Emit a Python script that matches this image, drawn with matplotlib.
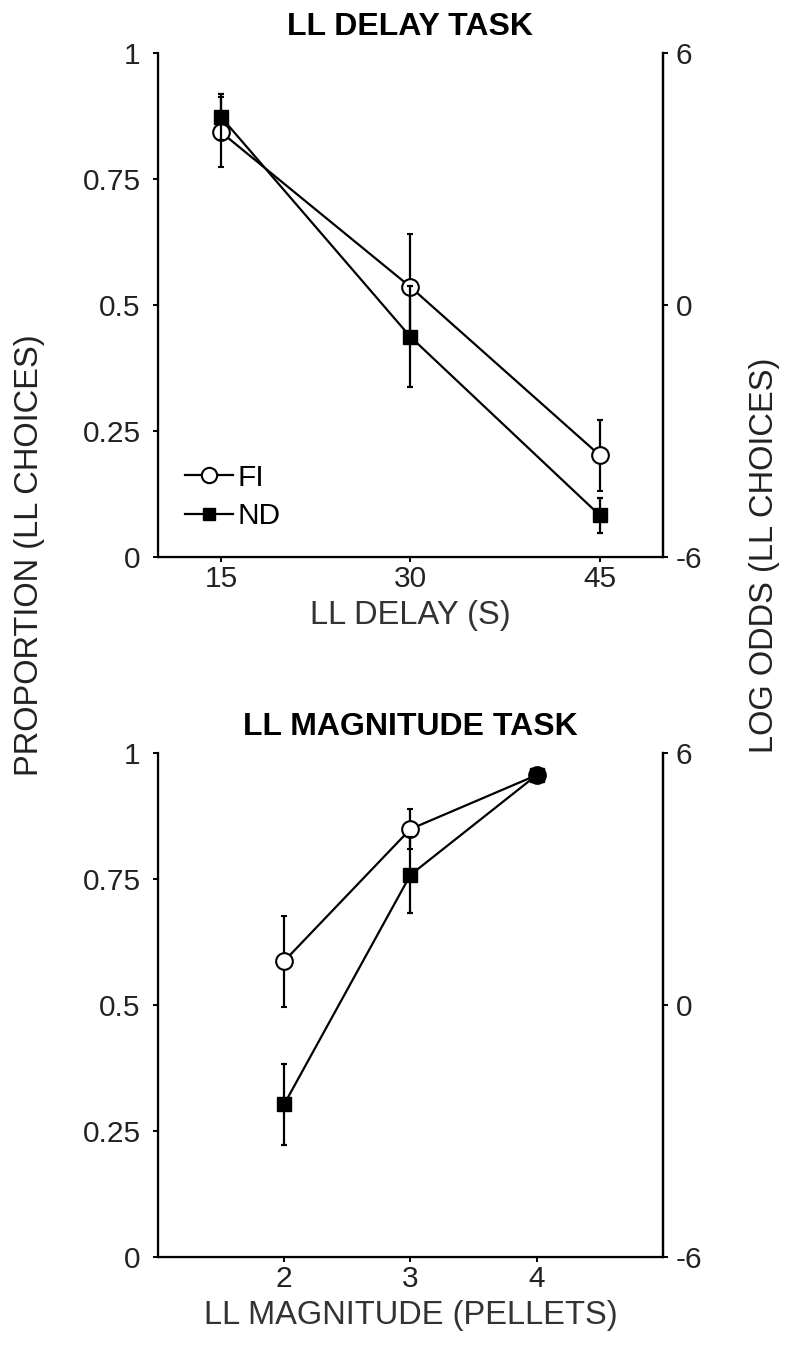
import matplotlib
matplotlib.use("Agg")
import matplotlib.pyplot as plt
from matplotlib.lines import Line2D

plt.rcParams['font.family'] = ['Liberation Sans', 'DejaVu Sans']

# LL delay task
delay = [15, 30, 45]
delay_fi = [0.843, 0.536, 0.202]
delay_fi_err = [0.07, 0.105, 0.07]
delay_nd = [0.873, 0.437, 0.083]
delay_nd_err = [0.045, 0.10, 0.035]

# LL magnitude task
mag = [2, 3, 4]
mag_fi = [0.587, 0.849, 0.956]
mag_fi_err = [0.09, 0.04, 0.01]
mag_nd = [0.303, 0.758, 0.956]
mag_nd_err = [0.08, 0.075, 0.01]

yticks = [0, 0.25, 0.5, 0.75, 1]
yticklabels = ['0', '0.25', '0.5', '0.75', '1']
rticks = [-6, 0, 6]

FS_TICK = 21.5
FS_LAB = 23.5
FS_TITLE = 23
lw = 1.6

fig = plt.figure(figsize=(7.95, 13.57), dpi=100)
ax1 = fig.add_axes([0.1987, 0.5895, 0.635, 0.3714])
ax2 = fig.add_axes([0.1987, 0.0737, 0.635, 0.3714])


def panel(ax, x, fi, fi_err, nd, nd_err, xlim, xticks, xlabel, title):
    ax.errorbar(x, fi, yerr=fi_err, color='black', lw=lw, elinewidth=lw,
                capsize=2.5, capthick=lw, marker='o', ms=12, mfc='white',
                mec='black', mew=1.5, zorder=3)
    ax.errorbar(x, nd, yerr=nd_err, color='black', lw=lw, elinewidth=lw,
                capsize=2.5, capthick=lw, marker='s', ms=10, mfc='black',
                mec='black', zorder=4)
    ax.set_xlim(*xlim)
    ax.set_ylim(0, 1)
    ax.set_xticks(xticks)
    ax.set_xticklabels([str(t) for t in xticks])
    ax.set_yticks(yticks)
    ax.set_yticklabels(yticklabels)
    ax.spines['top'].set_visible(False)
    for s in ['left', 'bottom', 'right']:
        ax.spines[s].set_linewidth(1.6)
    ax.tick_params(direction='out', length=3.5, width=1.4, labelsize=FS_TICK,
                   colors='black', labelcolor='#222222')
    ax.tick_params(axis='x', pad=2.5)
    ax.tick_params(axis='y', pad=9)
    ax.set_xlabel(xlabel, fontsize=FS_LAB, color='#333333', labelpad=5)
    ax.set_title(title, fontsize=FS_TITLE, fontweight='bold', pad=13)
    axr = ax.twinx()
    axr.set_ylim(-6, 6)
    axr.set_yticks(rticks)
    axr.set_yticklabels([str(t) for t in rticks])
    axr.spines['top'].set_visible(False)
    axr.spines['right'].set_linewidth(1.6)
    axr.tick_params(direction='out', length=3.5, width=1.4, labelsize=FS_TICK,
                    pad=6, labelcolor='#222222')
    return axr


panel(ax1, delay, delay_fi, delay_fi_err, delay_nd, delay_nd_err,
      (10, 50), delay, 'LL DELAY (S)', 'LL DELAY TASK')
panel(ax2, mag, mag_fi, mag_fi_err, mag_nd, mag_nd_err,
      (1, 5), mag, 'LL MAGNITUDE (PELLETS)', 'LL MAGNITUDE TASK')

handles = [
    Line2D([], [], color='black', lw=lw, marker='o', ms=11, mfc='white', mec='black', mew=1.5),
    Line2D([], [], color='black', lw=lw, marker='s', ms=9, mfc='black', mec='black'),
]
ax1.legend(handles, ['FI', 'ND'], loc='lower left', bbox_to_anchor=(0.03, 0.03),
           borderaxespad=0, frameon=False, fontsize=FS_TICK, handlelength=1.6,
           handletextpad=0.15, labelspacing=0.35)

fig.text(30 / 795, 1 - 555 / 1357, 'PROPORTION (LL CHOICES)', rotation=90,
         fontsize=FS_LAB, ha='center', va='center', color='#222222')
fig.text(765 / 795, 1 - 555 / 1357, 'LOG ODDS (LL CHOICES)', rotation=90,
         fontsize=FS_LAB, ha='center', va='center', color='#222222')

fig.savefig('out.png', dpi=100)
